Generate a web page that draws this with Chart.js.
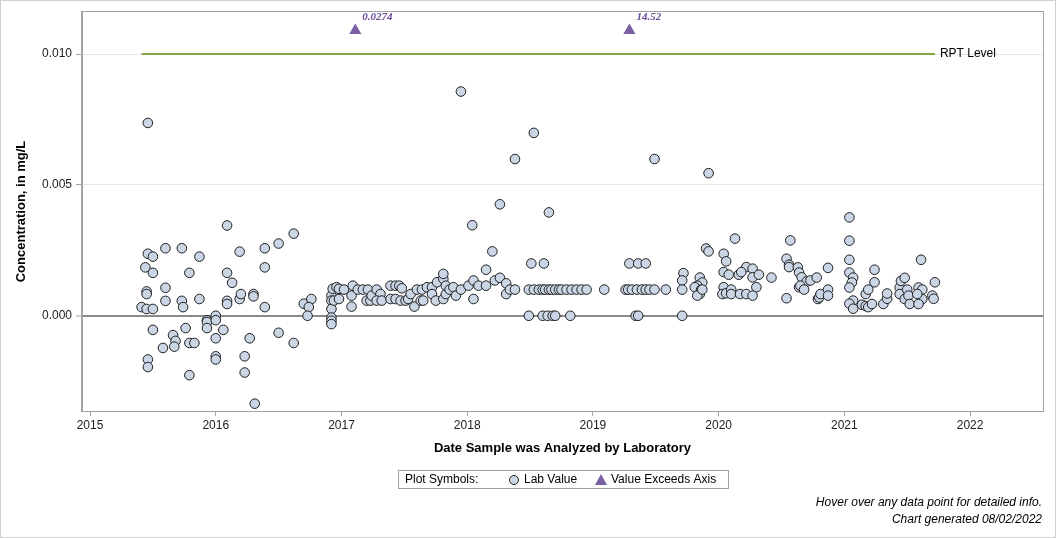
<!DOCTYPE html>
<html lang="en">
<head>
<meta charset="UTF-8">
<title>Concentration, in mg/L</title>
<script src="https://cdn.jsdelivr.net/npm/chart.js"></script>
<style>
  html, body { margin: 0; padding: 0; background: #fff; }
  #wrap { width: 1056px; height: 538px; }
</style>
</head>
<body>
<div id="wrap"><canvas id="concChart" width="1056" height="538"></canvas></div>

<script>
// lab values: [decimal year analyzed, mg/L]
const samples2015 = [
  [2015.46, 0.00737], [2015.60, 0.00258], [2015.73, 0.00258], [2015.46, 0.00237], [2015.50, 0.00226],
  [2015.87, 0.00226], [2015.44, 0.00185], [2015.50, 0.00164], [2015.79, 0.00164], [2015.60, 0.00107],
  [2015.45, 0.00093], [2015.45, 0.00083], [2015.60, 0.00057], [2015.73, 0.00057], [2015.74, 0.00033],
  [2015.87, 0.00064], [2015.41, 0.00033], [2015.45, 0.00026], [2015.50, 0.00026], [2015.93, -0.00017],
  [2015.93, -0.00024], [2015.93, -0.00047], [2015.50, -0.00054], [2015.76, -0.00047], [2015.66, -0.00074],
  [2015.68, -0.00096], [2015.67, -0.00118], [2015.58, -0.00123], [2015.79, -0.00104], [2015.83, -0.00104],
  [2015.46, -0.00167], [2015.46, -0.00196], [2015.79, -0.00227]
];
const samples2016 = [
  [2016.09, 0.00345], [2016.62, 0.00314], [2016.19, 0.00245], [2016.39, 0.00258], [2016.50, 0.00276],
  [2016.09, 0.00164], [2016.39, 0.00185], [2016.13, 0.00126], [2016.09, 0.00057], [2016.09, 0.00045],
  [2016.19, 0.00064], [2016.20, 0.00083], [2016.30, 0.00083], [2016.30, 0.00074], [2016.39, 0.00033],
  [2016.70, 0.00046], [2016.76, 0.00064], [2016.74, 0.00033], [2016.73, 0.0], [2016.00, 0.0],
  [2016.00, -0.00017], [2016.06, -0.00054], [2016.00, -0.00086], [2016.27, -0.00086], [2016.50, -0.00065],
  [2016.62, -0.00104], [2016.00, -0.00155], [2016.00, -0.00167], [2016.23, -0.00155], [2016.23, -0.00217],
  [2016.31, -0.00336],
  [2016.92, 0.00077], [2016.92, 0.00058], [2016.92, 0.00026], [2016.92, -0.00007], [2016.92, -0.00019],
  [2016.92, -0.00032], [2016.93, 0.00103], [2016.96, 0.00109], [2016.98, 0.00103], [2016.94, 0.00058],
  [2016.98, 0.00064]
];
const samples2017 = [
  [2017.02, 0.0010], [2017.08, 0.00077], [2017.08, 0.00035], [2017.09, 0.00115], [2017.13, 0.0010],
  [2017.17, 0.0010], [2017.21, 0.0010], [2017.20, 0.00058], [2017.23, 0.00058], [2017.24, 0.00077],
  [2017.28, 0.0010], [2017.31, 0.00083], [2017.28, 0.00058], [2017.32, 0.00058], [2017.39, 0.00115],
  [2017.43, 0.00115], [2017.46, 0.00115], [2017.48, 0.00105], [2017.39, 0.00064], [2017.43, 0.00064],
  [2017.47, 0.00058], [2017.51, 0.00058], [2017.53, 0.00064], [2017.55, 0.00083], [2017.58, 0.00035],
  [2017.60, 0.0010], [2017.63, 0.00058], [2017.65, 0.00058], [2017.64, 0.0010], [2017.68, 0.00109],
  [2017.72, 0.00109], [2017.72, 0.00083], [2017.75, 0.00058], [2017.76, 0.00128], [2017.81, 0.00141],
  [2017.81, 0.0016], [2017.81, 0.00064], [2017.83, 0.00083], [2017.83, 0.00115], [2017.86, 0.0010],
  [2017.89, 0.00109], [2017.91, 0.00077], [2017.95, 0.0010], [2017.95, 0.00857]
];
const samples2018 = [
  [2018.01, 0.00115], [2018.05, 0.00135], [2018.05, 0.00064], [2018.09, 0.00115], [2018.15, 0.00176],
  [2018.15, 0.00115], [2018.20, 0.00246], [2018.04, 0.00346], [2018.22, 0.00135], [2018.53, 0.00699],
  [2018.38, 0.00599], [2018.26, 0.00426], [2018.65, 0.00395], [2018.51, 0.0020], [2018.61, 0.0020],
  [2018.26, 0.00145], [2018.31, 0.00124], [2018.31, 0.00083],
  [2018.34, 0.0010], [2018.38, 0.0010], [2018.49, 0.0010], [2018.53, 0.0010], [2018.57, 0.0010],
  [2018.60, 0.0010], [2018.62, 0.0010], [2018.65, 0.0010], [2018.67, 0.0010], [2018.70, 0.0010],
  [2018.73, 0.0010], [2018.75, 0.0010], [2018.79, 0.0010], [2018.83, 0.0010], [2018.87, 0.0010],
  [2018.91, 0.0010], [2018.95, 0.0010],
  [2018.49, 0.0], [2018.60, 0.0], [2018.64, 0.0], [2018.68, 0.0], [2018.70, 0.0], [2018.82, 0.0]
];
const samples2019 = [
  [2019.29, 0.0020], [2019.36, 0.0020], [2019.42, 0.0020],
  [2019.09, 0.0010], [2019.26, 0.0010], [2019.28, 0.0010], [2019.31, 0.0010], [2019.35, 0.0010],
  [2019.39, 0.0010], [2019.42, 0.0010], [2019.45, 0.0010], [2019.49, 0.0010], [2019.58, 0.0010],
  [2019.34, 0.0], [2019.36, 0.0], [2019.71, 0.0],
  [2019.49, 0.00599], [2019.92, 0.00545], [2019.90, 0.00257], [2019.92, 0.00246], [2019.72, 0.00163],
  [2019.71, 0.00135], [2019.71, 0.0010], [2019.85, 0.00146], [2019.87, 0.00127], [2019.83, 0.00115],
  [2019.81, 0.00109], [2019.86, 0.00099], [2019.85, 0.00083], [2019.83, 0.00077], [2019.87, 0.0010]
];
const samples2020 = [
  [2020.13, 0.00295], [2020.57, 0.00288], [2020.04, 0.00237], [2020.06, 0.00208], [2020.54, 0.00218],
  [2020.56, 0.00195], [2020.56, 0.00186], [2020.22, 0.00186], [2020.27, 0.0018], [2020.04, 0.00167],
  [2020.08, 0.00157], [2020.16, 0.00157], [2020.18, 0.00167], [2020.27, 0.00147], [2020.32, 0.00157],
  [2020.42, 0.00146], [2020.30, 0.00109], [2020.04, 0.00109], [2020.03, 0.00083], [2020.06, 0.00086],
  [2020.10, 0.0010], [2020.10, 0.00083], [2020.17, 0.00083], [2020.22, 0.00083], [2020.27, 0.00077],
  [2020.54, 0.00067],
  [2020.63, 0.00185], [2020.64, 0.00165], [2020.66, 0.00147], [2020.70, 0.00131], [2020.73, 0.00135],
  [2020.78, 0.00146], [2020.64, 0.00109], [2020.65, 0.00115], [2020.68, 0.0010], [2020.79, 0.00064],
  [2020.80, 0.0007], [2020.81, 0.00083], [2020.87, 0.00183], [2020.87, 0.0010], [2020.87, 0.00077]
];
const samples2021 = [
  [2021.04, 0.00376], [2021.04, 0.00287], [2021.04, 0.00214], [2021.04, 0.00165], [2021.07, 0.00146],
  [2021.06, 0.00127], [2021.04, 0.00108], [2021.07, 0.00058], [2021.04, 0.00046], [2021.07, 0.00027],
  [2021.14, 0.00042], [2021.17, 0.00037], [2021.19, 0.00033], [2021.22, 0.00045], [2021.17, 0.00083],
  [2021.19, 0.0010], [2021.24, 0.00176], [2021.24, 0.00128], [2021.31, 0.00045], [2021.34, 0.00065],
  [2021.34, 0.00085], [2021.44, 0.00108], [2021.45, 0.00133], [2021.48, 0.00145], [2021.44, 0.00083],
  [2021.48, 0.00064], [2021.50, 0.0010], [2021.51, 0.00077], [2021.52, 0.00045], [2021.59, 0.00108],
  [2021.62, 0.0010], [2021.62, 0.00064], [2021.59, 0.00045], [2021.58, 0.00083], [2021.61, 0.00214],
  [2021.70, 0.00077], [2021.71, 0.00065], [2021.72, 0.00128]
];

// values above the axis: drawn as triangles at the top, real value printed beside
const exceedYears = [2017.11, 2019.29];
const exceedLabels = ['0.0274', '14.52'];
const exceedMarkerLevel = 0.0109;

// reporting level line
const rptLevel = 0.010;
const rptYears = [2015.41, 2021.72];

const xTicks = [2015, 2016, 2017, 2018, 2019, 2020, 2021, 2022];
const yTicks = [0, 0.005, 0.010];

const labPoints = [].concat(samples2015, samples2016, samples2017, samples2018,
                            samples2019, samples2020, samples2021)
                    .map(p => ({ x: p[0], y: p[1] }));

const FONT = "'Liberation Sans', Arial, sans-serif";
Chart.defaults.font.family = FONT;
Chart.defaults.color = '#000';

const circleFill = '#cad5e6';
const circleLine = '#1e1e1e';
const triColor = '#7a5fa3';

// extra drawing: frame, labels, legend box, footer
const decorPlugin = {
  id: 'decor',
  afterDraw(chart) {
    const ctx = chart.ctx;
    const a = chart.chartArea;
    const xs = chart.scales.x, ys = chart.scales.y;
    ctx.save();

    // outer border of the image
    ctx.strokeStyle = '#d0d0d0';
    ctx.lineWidth = 1;
    ctx.strokeRect(0.5, 0.5, chart.width - 1, chart.height - 1);

    // plot frame
    ctx.strokeStyle = '#a3a3a3';
    ctx.strokeRect(a.left - 0.5, a.top - 0.5, a.right - a.left + 1, a.bottom - a.top + 1);

    // RPT Level label
    ctx.fillStyle = '#000';
    ctx.font = '12px ' + FONT;
    ctx.textBaseline = 'middle';
    ctx.textAlign = 'left';
    ctx.fillText('RPT Level', xs.getPixelForValue(rptYears[1]) + 5, ys.getPixelForValue(rptLevel));

    // exceedance labels
    ctx.fillStyle = '#6b4e96';
    ctx.font = "italic bold 11px 'Liberation Serif', 'Times New Roman', serif";
    exceedYears.forEach((yr, i) => {
      ctx.fillText(exceedLabels[i], xs.getPixelForValue(yr) + 7, ys.getPixelForValue(exceedMarkerLevel) - 13);
    });

    // legend box
    ctx.strokeStyle = '#a3a3a3';
    ctx.strokeRect(398.5, 470.5, 330, 18);
    ctx.fillStyle = '#000';
    ctx.font = '12px ' + FONT;
    ctx.fillText('Plot Symbols:', 405, 480);
    ctx.beginPath();
    ctx.arc(514, 480, 4.5, 0, Math.PI * 2);
    ctx.fillStyle = circleFill;
    ctx.fill();
    ctx.strokeStyle = circleLine;
    ctx.stroke();
    ctx.fillStyle = '#000';
    ctx.fillText('Lab Value', 524, 480);
    ctx.beginPath();
    ctx.moveTo(601, 474);
    ctx.lineTo(607, 485);
    ctx.lineTo(595, 485);
    ctx.closePath();
    ctx.fillStyle = triColor;
    ctx.fill();
    ctx.fillStyle = '#000';
    ctx.fillText('Value Exceeds Axis', 611, 480);

    // footer
    ctx.font = 'italic 12px ' + FONT;
    ctx.textAlign = 'right';
    ctx.fillText('Hover over any data point for detailed info.', 1042, 503);
    ctx.fillText('Chart generated 08/02/2022', 1042, 520);

    ctx.restore();
  }
};

new Chart(document.getElementById('concChart'), {
  type: 'scatter',
  data: {
    datasets: [
      {
        label: 'RPT Level',
        data: rptYears.map(yr => ({ x: yr, y: rptLevel })),
        showLine: true,
        borderColor: '#87a544',
        borderWidth: 2,
        pointRadius: 0
      },
      {
        label: 'Lab Value',
        data: labPoints,
        pointRadius: 4.8,
        pointBackgroundColor: circleFill,
        pointBorderColor: circleLine,
        pointBorderWidth: 1
      },
      {
        label: 'Value Exceeds Axis',
        data: exceedYears.map(yr => ({ x: yr, y: exceedMarkerLevel })),
        pointStyle: 'triangle',
        pointRadius: 7,
        pointBackgroundColor: triColor,
        pointBorderColor: triColor,
        pointBorderWidth: 0
      }
    ]
  },
  options: {
    responsive: false,
    animation: false,
    devicePixelRatio: 1,
    layout: { padding: { left: 0, right: 13, top: 12, bottom: 77 } },
    plugins: { legend: { display: false }, tooltip: { enabled: false } },
    scales: {
      x: {
        type: 'linear',
        min: 2014.936,
        max: 2022.58,
        afterBuildTicks: s => { s.ticks = xTicks.map(v => ({ value: v })); },
        afterFit: s => { s.height = 50; },
        ticks: { callback: v => String(v), font: { size: 12 }, color: '#222', padding: 2, maxRotation: 0 },
        grid: { drawOnChartArea: false, drawTicks: true, tickLength: 5, tickColor: '#a3a3a3' },
        border: { color: '#a3a3a3' },
        title: {
          display: true,
          text: 'Date Sample was Analyzed by Laboratory',
          font: { size: 13, weight: 'bold' },
          color: '#000',
          padding: { top: 4, bottom: 5 }
        }
      },
      y: {
        min: -0.00364,
        max: 0.01161,
        afterBuildTicks: s => { s.ticks = yTicks.map(v => ({ value: v })); },
        afterFit: s => { s.width = 82; },
        ticks: { callback: v => v.toFixed(3), font: { size: 12 }, color: '#222', padding: 4 },
        grid: {
          color: c => (c.tick && c.tick.value === 0 ? '#8a8a8a' : '#e6e6e6'),
          lineWidth: c => (c.tick && c.tick.value === 0 ? 2 : 1),
          tickColor: '#a3a3a3',
          tickWidth: 1,
          tickLength: 6
        },
        border: { color: '#a3a3a3' },
        title: {
          display: true,
          text: 'Concentration, in mg/L',
          font: { size: 13, weight: 'bold' },
          color: '#000',
          padding: { top: 14, bottom: 0 }
        }
      }
    }
  },
  plugins: [decorPlugin]
});
</script>
</body>
</html>
